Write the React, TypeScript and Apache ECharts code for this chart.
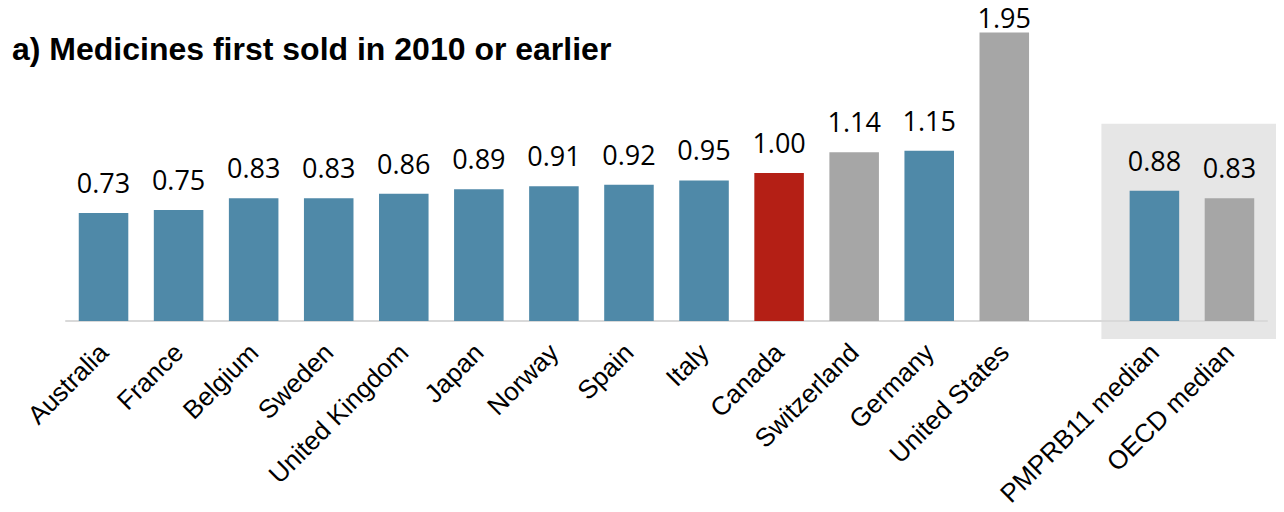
import React, { useEffect, useRef } from "react";
import * as echarts from "echarts";

const titleText = "a) Medicines first sold in 2010 or earlier";

const categories = [
  "Australia",
  "France",
  "Belgium",
  "Sweden",
  "United Kingdom",
  "Japan",
  "Norway",
  "Spain",
  "Italy",
  "Canada",
  "Switzerland",
  "Germany",
  "United States",
  "",
  "PMPRB11 median",
  "OECD median",
];

const values: (number | null)[] = [
  0.73, 0.75, 0.83, 0.83, 0.86, 0.89, 0.91, 0.92, 0.95, 1.0, 1.14, 1.15, 1.95,
  null, 0.88, 0.83,
];

const groups: (string | null)[] = [
  "member", "member", "member", "member", "member", "member", "member", "member",
  "member", "canada", "other", "member", "other", null, "member", "other",
];

const groupColors: Record<string, string> = {
  member: "#4f89a8",
  canada: "#b41f15",
  other: "#a6a6a6",
};

export default function App() {
  const ref = useRef<HTMLDivElement>(null);

  useEffect(() => {
    if (!ref.current) return;
    const chart = echarts.init(ref.current, undefined, { renderer: "svg" });

    const data = values.map((v, i) => {
      if (v === null) return null;
      const item: any = {
        value: v,
        itemStyle: { color: groupColors[groups[i] as string] },
      };
      if (categories[i] === "United States") {
        item.label = { distance: 1 };
      }
      return item;
    });

    chart.setOption({
      animation: false,
      backgroundColor: "#ffffff",
      title: {
        text: titleText,
        left: 7,
        top: 28,
        textStyle: {
          fontFamily: "Liberation Sans, Arial, sans-serif",
          fontWeight: "bold",
          fontSize: 32,
          color: "#000000",
        },
      },
      grid: {
        left: 66,
        right: 17,
        top: 25,
        bottom: 191,
        containLabel: false,
      },
      xAxis: {
        type: "category",
        data: categories,
        axisLine: { show: true, lineStyle: { color: "#d9d9d9", width: 2 } },
        axisTick: { show: false },
        axisLabel: {
          interval: 0,
          rotate: 45,
          margin: 27,
          fontFamily: "Liberation Sans, Arial, sans-serif",
          fontSize: 26,
          color: "#000000",
        },
      },
      yAxis: {
        type: "value",
        min: 0,
        max: 2,
        show: false,
        splitLine: { show: false },
      },
      series: [
        {
          type: "bar",
          data,
          barWidth: "66%",
          label: {
            show: true,
            position: "top",
            distance: 17,
            formatter: (p: any) => Number(p.value).toFixed(2),
            fontFamily: "Open Sans, Noto Sans, sans-serif",
            fontSize: 27,
            color: "#000000",
          },
        },
      ],
    });

    // Grey highlight box behind the two median bars
    const pCenter = chart.convertToPixel({ xAxisIndex: 0 }, "PMPRB11 median") as number;
    const oCenter = chart.convertToPixel({ xAxisIndex: 0 }, "OECD median") as number;
    const topY = chart.convertToPixel({ yAxisIndex: 0 }, 0.88) as number;
    const baseY = chart.convertToPixel({ yAxisIndex: 0 }, 0) as number;
    const x0 = pCenter - 53;
    const x1 = oCenter + 51;
    const y0 = topY - 67;
    const y1 = baseY + 18;
    chart.setOption({
      graphic: [
        {
          type: "rect",
          z: -10,
          silent: true,
          shape: { x: x0, y: y0, width: x1 - x0, height: y1 - y0 },
          style: { fill: "#e6e6e6" },
        },
      ],
    });

    return () => chart.dispose();
  }, []);

  return <div ref={ref} style={{ width: 1284, height: 512, margin: -8 }} />;
}
